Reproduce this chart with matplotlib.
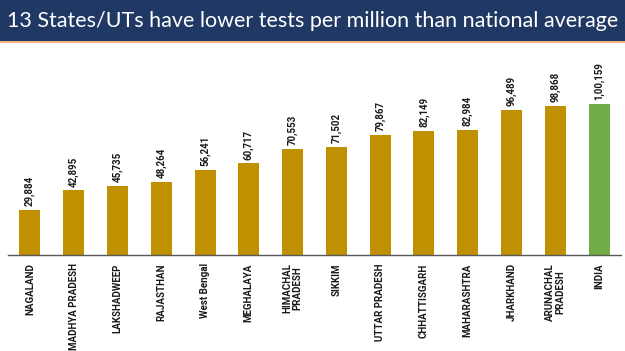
import matplotlib.pyplot as plt
import matplotlib.patches as mpatches

states = ['NAGALAND', 'MADHYA PRADESH', 'LAKSHADWEEP', 'RAJASTHAN', 'West Bengal',
          'MEGHALAYA', 'HIMACHAL\nPRADESH', 'SIKKIM', 'UTTAR PRADESH', 'CHHATTISGARH',
          'MAHARASHTRA', 'JHARKHAND', 'ARUNACHAL\nPRADESH', 'INDIA']
tests = [29884, 42895, 45735, 48264, 56241, 60717, 70553, 71502, 79867, 82149,
         82984, 96489, 98868, 100159]
labels = ['29,884', '42,895', '45,735', '48,264', '56,241', '60,717', '70,553', '71,502',
          '79,867', '82,149', '82,984', '96,489', '98,868', '1,00,159']
colors = ['#BF9000'] * 13 + ['#70AD47']

plt.rcParams['font.family'] = ['Lato', 'DejaVu Sans']
lab_font = ['Roboto', 'DejaVu Sans']

fig = plt.figure(figsize=(6.25, 3.51), dpi=100)

# header band
fig.patches.append(mpatches.Rectangle((0, 1 - 41/351), 1, 41/351, transform=fig.transFigure,
                                      facecolor='#1F3864', zorder=0))
fig.patches.append(mpatches.Rectangle((0, 1 - 43/351), 1, 2/351, transform=fig.transFigure,
                                      facecolor='#F4B183', zorder=0))
fig.text(0.5, 1 - 21/351, '13 States/UTs have lower tests per million than national average',
         color='white', fontsize=15.5, ha='center', va='center')

ax = fig.add_axes([8/625, 1 - 255/351, 613/625, 205/351])
x = range(len(states))
ax.bar(x, tests, width=0.48, color=colors)
for xi, v, lab in zip(x, tests, labels):
    ax.text(xi, v + 2500, lab, rotation=90, ha='center', va='bottom', fontsize=7,
            fontweight='bold', color='#1a1a1a', family=lab_font)

ax.set_xlim(-0.5, 13.5)
ax.set_ylim(0, 136000)
ax.set_yticks([])
ax.set_xticks(list(x))
ax.set_xticklabels(states, rotation=90, fontsize=7, fontweight='bold', color='#1a1a1a',
                   va='top', linespacing=1.0, family=lab_font)
ax.tick_params(axis='x', length=0, pad=6)
for s in ['top', 'right', 'left']:
    ax.spines[s].set_visible(False)
ax.spines['bottom'].set_color('#595959')
ax.spines['bottom'].set_linewidth(1.0)

fig.savefig('out.png', dpi=100)
